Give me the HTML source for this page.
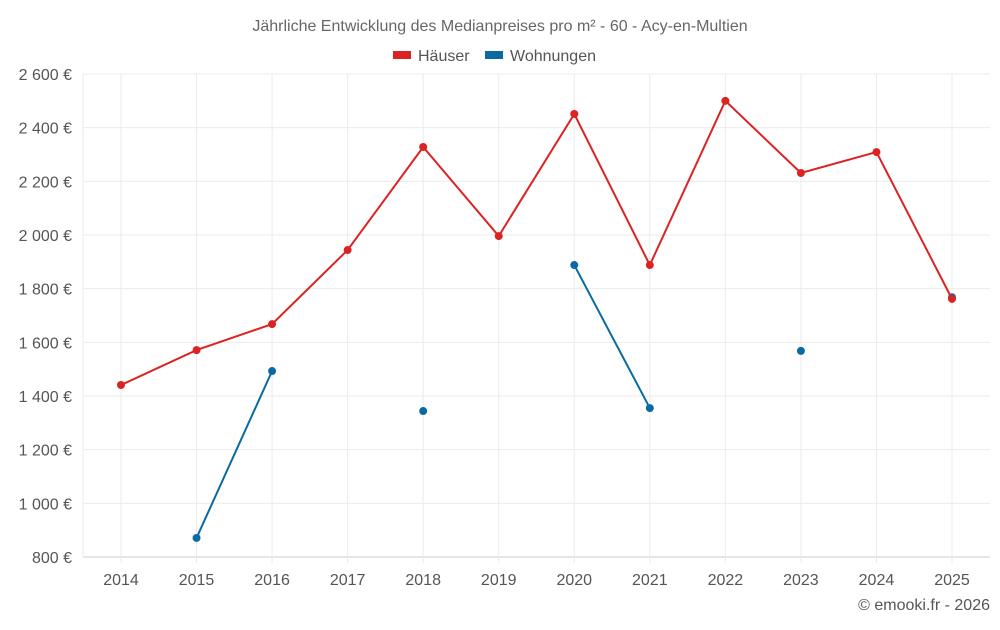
<!DOCTYPE html>
<html><head><meta charset="utf-8">
<style>
body{margin:0;background:#fff;font-family:"Liberation Sans",sans-serif;}
svg text{font-family:"Liberation Sans",sans-serif;}
</style></head>
<body>
<svg id="chart" width="1000" height="625" viewBox="0 0 1000 625" xmlns="http://www.w3.org/2000/svg">
<text x="500" y="31" text-anchor="middle" font-size="16" fill="#666">Jährliche Entwicklung des Medianpreises pro m² - 60 - Acy-en-Multien</text>
<g>
<g><rect x="393" y="51" width="18" height="8" fill="#dc2323"/><text x="418" y="61" font-size="16" fill="#555">Häuser</text></g>
<g><rect x="485" y="51" width="18" height="8" fill="#0a6aa1"/><text x="510" y="61" font-size="16" fill="#555">Wohnungen</text></g>
</g>
<g id="grid"></g><g id="axes"></g><g id="series"></g>
<text x="990" y="610" text-anchor="end" font-size="16" fill="#555">© emooki.fr - 2026</text>
</svg>
<script>
const years=[2014,2015,2016,2017,2018,2019,2020,2021,2022,2023,2024,2025];
const houses=[1441,1571,1668,1944,2328,1996,2451,1888,2500,2231,2309,1762];
const flats=[null,871,1493,null,1344,null,1888,1355,null,1568,null,1768];
const yTicks=[800,1000,1200,1400,1600,1800,2000,2200,2400,2600];
const yTickLabels=["800 €","1 000 €","1 200 €","1 400 €","1 600 €","1 800 €","2 000 €","2 200 €","2 400 €","2 600 €"];
const L=83,R=990,T=74,B=557,yMin=800,yMax=2600;
const ns="http://www.w3.org/2000/svg";
const x=i=>121+i*(952-121)/(years.length-1);
const y=v=>B-(v-yMin)/(yMax-yMin)*(B-T);
function mk(tag,attrs,parent){const e=document.createElementNS(ns,tag);for(const k in attrs)e.setAttribute(k,attrs[k]);parent.appendChild(e);return e;}
const grid=document.getElementById('grid'),axes=document.getElementById('axes'),ser=document.getElementById('series');
yTicks.forEach((t,i)=>{
 const l=mk('line',{x1:L,x2:R,y1:y(t),y2:y(t),stroke:i==0?'#ccc':'#ebebeb','stroke-width':1},grid);
 
 
 const tx=mk('text',{x:72,y:y(t)+6,'text-anchor':'end','font-size':16,fill:'#555'},axes);
 tx.textContent=yTickLabels[i];
 
 
});
const lv=mk('line',{x1:L,x2:L,y1:T,y2:B,stroke:'#ebebeb'},grid);


years.forEach((yr,i)=>{
 const g=mk('line',{x1:x(i),x2:x(i),y1:T,y2:B+6,stroke:'#ebebeb'},grid);
 
 
 const tx=mk('text',{x:x(i),y:585,'text-anchor':'middle','font-size':16,fill:'#555'},axes);
 tx.textContent=yr;
 
 
});
function draw(vals,color,name){
 let seg=[];
 const flush=()=>{if(seg.length>1){const p=mk('polyline',{points:seg.map(s=>s.join(',')).join(' '),fill:'none',stroke:color,'stroke-width':2},ser);
 
 }seg=[];};
 vals.forEach((v,i)=>{if(v==null){flush();return;}seg.push([x(i),y(v)]);});
 flush();
 vals.forEach((v,i)=>{if(v==null)return;
  const c=mk('circle',{cx:x(i),cy:y(v),r:4,fill:color},ser);
  
  });
}
draw(flats,'#0a6aa1','wohnungen');
draw(houses,'#dc2323','haeuser');
</script>
</body></html>
